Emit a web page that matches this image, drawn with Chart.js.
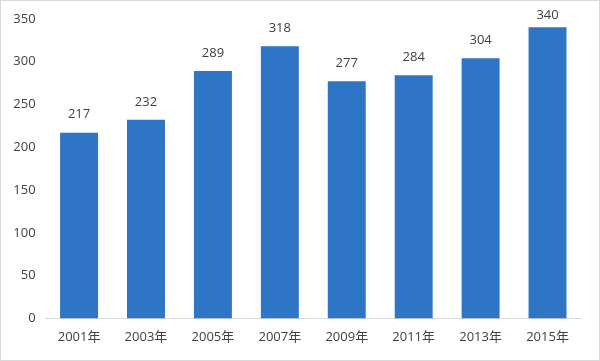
<!DOCTYPE html>
<html><head><meta charset="utf-8">
<script src="https://cdn.jsdelivr.net/npm/chart.js@4"></script>
<style>
html,body{margin:0;padding:0;background:#fff;}
#wrap{width:600px;height:361px;box-sizing:border-box;border:1px solid #d9d9d9;position:relative;}
canvas{display:block;}
</style></head>
<body><div id="wrap"><canvas id="c" width="598" height="359"></canvas></div>
<script>
const categories = ["2001年","2003年","2005年","2007年","2009年","2011年","2013年","2015年"];
const values = [217, 232, 289, 318, 277, 284, 304, 340];
const yTicks = [0, 50, 100, 150, 200, 250, 300, 350];

const FONT = '"Open Sans", "Noto Sans CJK SC", sans-serif';
const TEXT = '#404040';

const valueLabels = {
  id: 'valueLabels',
  afterDatasetsDraw(chart) {
    const ctx = chart.ctx;
    const meta = chart.getDatasetMeta(0);
    ctx.save();
    ctx.font = '13px ' + FONT;
    ctx.fillStyle = TEXT;
    ctx.textAlign = 'center';
    ctx.textBaseline = 'middle';
    meta.data.forEach((bar, i) => {
      ctx.fillText(String(chart.data.datasets[0].data[i]), bar.x, Math.max(bar.y - 18, 14));
    });
    ctx.restore();
  }
};

new Chart(document.getElementById('c'), {
  type: 'bar',
  data: {
    labels: categories,
    datasets: [{
      data: values,
      backgroundColor: '#2E75C6',
      categoryPercentage: 1,
      barPercentage: 0.567
    }]
  },
  options: {
    responsive: false,
    animation: false,
    devicePixelRatio: 1,
    layout: { padding: { top: 10, right: 18, bottom: 4, left: 0 } },
    plugins: { legend: { display: false }, tooltip: { enabled: false } },
    scales: {
      x: {
        grid: { display: false, drawTicks: false },
        border: { display: true, color: '#d9d9d9', width: 1 },
        ticks: { color: TEXT, font: { size: 13, family: FONT }, padding: 11, maxRotation: 0 }
      },
      y: {
        min: 0, max: 350,
        afterBuildTicks(scale) { scale.ticks = yTicks.map(v => ({ value: v })); },
        afterFit(scale) { scale.width = 44.6; },
        grid: { display: false, drawTicks: false },
        border: { display: false },
        ticks: { color: TEXT, font: { size: 13, family: FONT }, padding: 10 }
      }
    }
  },
  plugins: [valueLabels]
});
</script>
</body></html>
